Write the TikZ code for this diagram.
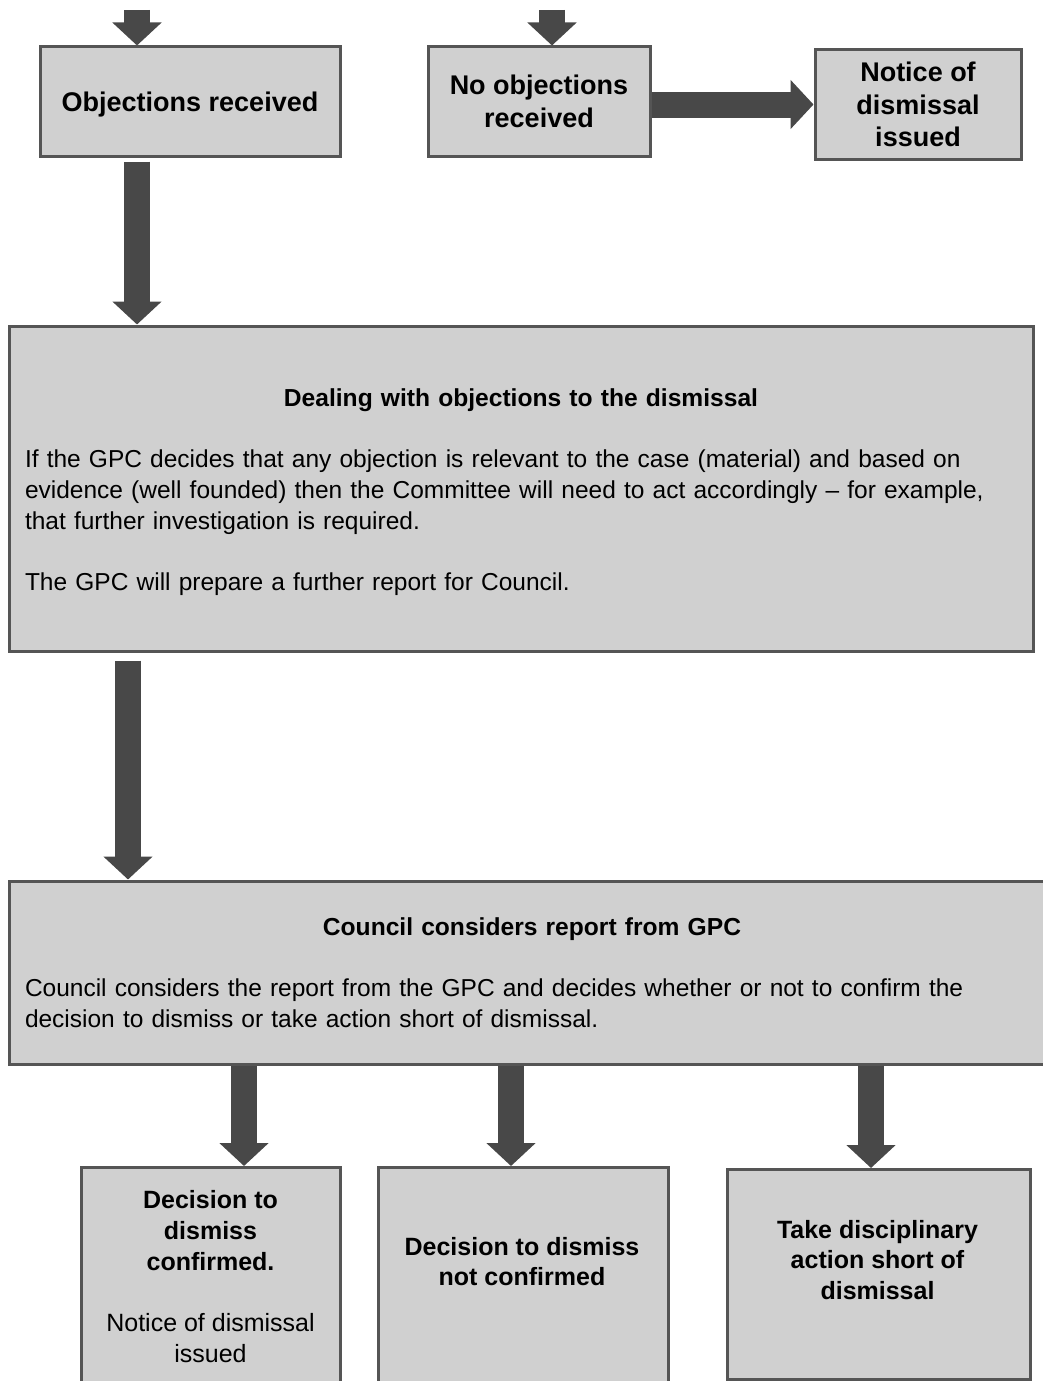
\documentclass[tikz,border=0pt]{standalone}
\usepackage{fontspec}
\setmainfont{Liberation Sans}
\usetikzlibrary{arrows.meta}
\definecolor{boxgray}{RGB}{208,208,208}
\definecolor{edgegray}{RGB}{85,85,85}
\definecolor{arrowgray}{RGB}{72,72,72}

\begin{document}
\begin{tikzpicture}[x=1pt, y=-1pt,
    box/.style={draw=edgegray, fill=boxgray, line width=3pt, inner sep=0pt, align=center},
    topfont/.style={font=\fontsize{27}{32.5}\selectfont\bfseries},
    headfont/.style={font=\fontsize{25}{30.7}\selectfont\bfseries, align=center},
    widebox/.style={box, align=left, inner xsep=16pt, font=\fontsize{24.5}{30.7}\selectfont},
    arr/.style={draw=arrowgray, line width=26pt, -{Triangle[width=48pt,length=23pt]}}
]
\path[use as bounding box, clip] (0,0) rectangle (1043,1381);

% top row
\node[box, topfont, text depth=0pt, minimum width=300pt, minimum height=109pt] (obj) at (190,101.5) {Objections received};
\node[box, topfont, minimum width=222pt, minimum height=109pt] (noobj)  at (539,101.5) {No objections\\received};
\node[box, topfont, minimum width=206pt, minimum height=109pt] (notice) at (918,104.5) {Notice of\\dismissal\\issued};
\coordinate (inA) at (137,10);
\coordinate (inB) at (552,10);

% GPC and Council
\node[widebox, text width=992pt, minimum height=325pt] (deal) at (521,488.5) {%
  \centerline{\rule{0pt}{25pt}\fontsize{24.6}{30.7}\selectfont\bfseries Dealing with objections to the dismissal}\par\vspace{30.7pt}
  If the GPC decides that any objection is relevant to the case (material) and based on\\
  evidence (well founded) then the Committee will need to act accordingly -- for example,\\
  that further investigation is required.\\[30.7pt]
  The GPC will prepare a further report for Council.};
\node[widebox, text width=1014pt, minimum height=183pt] (council) at (532,972.5) {%
  \centerline{\fontsize{24.6}{30.7}\selectfont\bfseries Council considers report from GPC}\par\vspace{30.7pt}
  Council considers the report from the GPC and decides whether or not to confirm the\\
  decision to dismiss or take action short of dismissal.};

% outcomes
\node[box, anchor=north, minimum width=259pt, minimum height=250pt] (dec1) at (210.5,1166) {};
\node[box, anchor=north, minimum width=290pt, minimum height=250pt] (dec2) at (523,1166) {};
\node[box, anchor=north, minimum width=303pt, minimum height=210pt] (dec3) at (878.5,1168) {};
\node[headfont] (dec1t) at (210.5,1276.5) {Decision to\\dismiss\\confirmed.\\[30.7pt]
  \textmd{Notice of dismissal}\\\textmd{issued}};
\node[headfont] (dec2t) at (522,1261.5) {Decision to dismiss\\not confirmed};
\node[headfont] (dec3t) at (877.5,1260) {Take disciplinary\\action short of\\dismissal};

\draw[arr] (inA) -- (inA |- obj.north);
\draw[arr] (inB) -- (inB |- noobj.north);
\draw[arr] (noobj.east |- notice.west) -- (notice.west);
\draw[arr] ([yshift=-4pt]obj.south -| inA) -- (deal.north -| inA);
\draw[arr] ([xshift=-393pt,yshift=-8pt]deal.south) -- ([xshift=-404pt]council.north);
\draw[arr] ([xshift=33.5pt]dec1.north |- council.south) -- ([xshift=33.5pt]dec1.north);
\draw[arr] ([xshift=-12pt]dec2.north |- council.south) -- ([xshift=-12pt]dec2.north);
\draw[arr] ([xshift=-7.5pt]dec3.north |- council.south) -- ([xshift=-7.5pt]dec3.north);
\end{tikzpicture}
\end{document}
